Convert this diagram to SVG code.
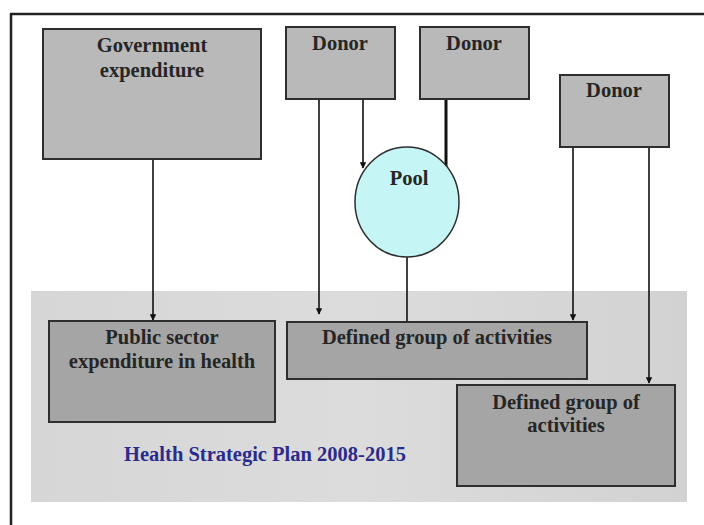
<svg xmlns="http://www.w3.org/2000/svg" width="704" height="525" viewBox="0 0 704 525">
  <style>
    .box { stroke: #2e2e2e; stroke-width: 2; }
    .top { fill: #b9b9b9; }
    .low { fill: #a5a5a5; }
    .lbl { font-family: "Liberation Serif", "DejaVu Serif", serif; font-weight: bold; font-size: 20.5px; fill: #262626; text-anchor: middle; }
    .link { stroke: #111; stroke-width: 1.6; fill: none; }
    .plan { font-family: "Liberation Serif", "DejaVu Serif", serif; font-weight: bold; font-size: 20.5px; fill: #2b2b8c; text-anchor: middle; }
  </style>
  <defs>
    <marker id="arr" viewBox="0 0 10 10" refX="9" refY="5" markerWidth="4" markerHeight="4" orient="auto">
      <path d="M0,0 L10,5 L0,10 z" fill="#111"/>
    </marker>
    <linearGradient id="band" x1="0" y1="0" x2="1" y2="0">
      <stop offset="0" stop-color="#d6d6d6"/>
      <stop offset="0.5" stop-color="#dcdcdc"/>
      <stop offset="1" stop-color="#d2d2d2"/>
    </linearGradient>
  </defs>

  <!-- page -->
  <rect x="0" y="0" width="704" height="525" fill="#ffffff"/>
  <line x1="10" y1="14" x2="704" y2="14" stroke="#222" stroke-width="2.5"/>
  <line x1="11" y1="13" x2="11" y2="525" stroke="#222" stroke-width="2.5"/>

  <!-- plan band -->
  <g id="plan">
    <rect x="31" y="291" width="656" height="211" fill="url(#band)"/>
    <text class="plan" x="265" y="461">Health Strategic Plan 2008-2015</text>
  </g>

  <!-- connectors -->
  <g id="connectors">
    <line class="link" x1="153" y1="159" x2="153" y2="320" marker-end="url(#arr)"/>
    <line class="link" x1="319" y1="99" x2="319" y2="314" marker-end="url(#arr)"/>
    <line class="link" x1="363" y1="99" x2="363" y2="168" marker-end="url(#arr)"/>
    <line x1="446" y1="99" x2="446" y2="169" stroke="#111" stroke-width="3"/>
    <line class="link" x1="407" y1="257" x2="407" y2="322"/>
    <line class="link" x1="573" y1="147" x2="573" y2="320" marker-end="url(#arr)"/>
    <line class="link" x1="649" y1="147" x2="649" y2="383" marker-end="url(#arr)"/>
  </g>

  <g id="government">
    <rect class="box top" x="43" y="29" width="218" height="130"/>
    <text class="lbl" x="152" y="52">Government</text>
    <text class="lbl" x="152" y="77">expenditure</text>
  </g>

  <g id="donor1">
    <rect class="box top" x="286" y="27" width="109" height="72"/>
    <text class="lbl" x="340" y="50">Donor</text>
  </g>

  <g id="donor2">
    <rect class="box top" x="420" y="27" width="109" height="72"/>
    <text class="lbl" x="474" y="50">Donor</text>
  </g>

  <g id="donor3">
    <rect class="box top" x="560" y="75" width="109" height="72"/>
    <text class="lbl" x="614" y="97">Donor</text>
  </g>

  <g id="pool">
    <ellipse cx="407" cy="202" rx="52" ry="55" fill="#c6f5f5" stroke="#2e2e2e" stroke-width="1.5"/>
    <text class="lbl" x="409" y="185" font-size="22">Pool</text>
  </g>

  <g id="public">
    <rect class="box low" x="49" y="321" width="226" height="101"/>
    <text class="lbl" x="162" y="344">Public sector</text>
    <text class="lbl" x="162" y="368">expenditure in health</text>
  </g>

  <g id="activities1">
    <rect class="box low" x="287" y="322" width="300" height="57"/>
    <text class="lbl" x="437" y="344">Defined group of activities</text>
  </g>

  <g id="activities2">
    <rect class="box low" x="457" y="385" width="218" height="101"/>
    <text class="lbl" x="566" y="409">Defined group of</text>
    <text class="lbl" x="566" y="432">activities</text>
  </g>
</svg>
